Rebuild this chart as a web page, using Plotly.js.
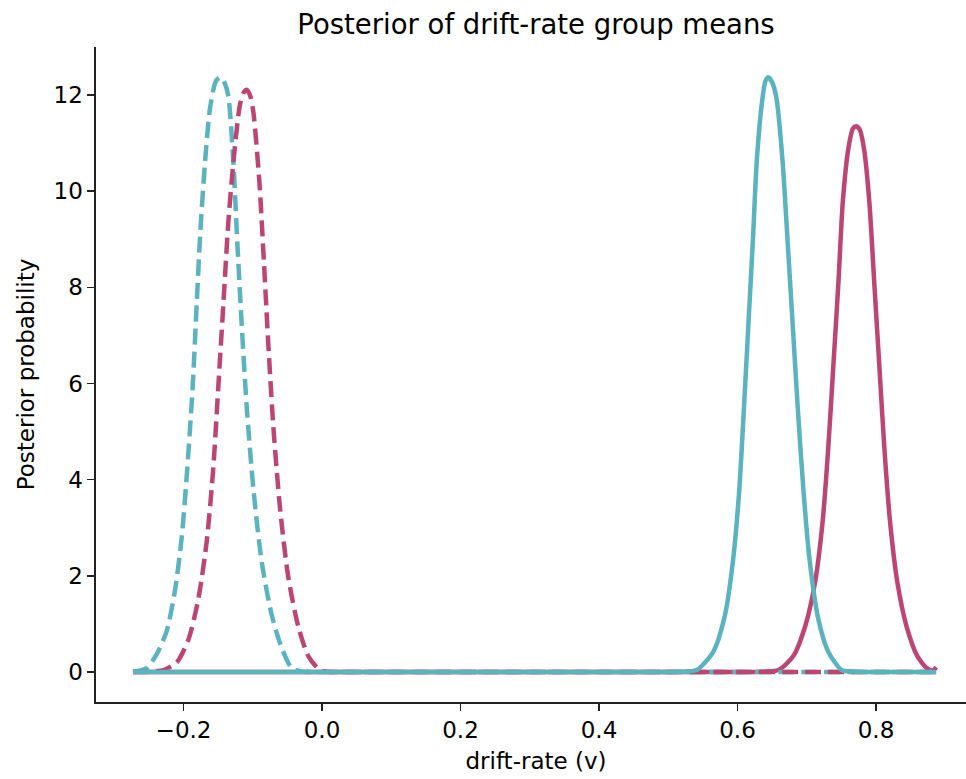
<!DOCTYPE html>
<html>
<head>
<meta charset="utf-8">
<script src="https://cdn.plot.ly/plotly-3.0.1.min.js"></script>
<style>
html, body { margin: 0; padding: 0; overflow: hidden; background: #fff; }
#chart { width: 976px; height: 779px; }
</style>
</head>
<body>
<div id="chart"></div>
<script>
// Dashed cyan
const dashedCyanX = [-0.273, -0.262, -0.253, -0.2387, -0.2243, -0.2123, -0.2026, -0.1945, -0.1867, -0.181, -0.176, -0.169, -0.1617, -0.153, -0.146, -0.1405, -0.1353, -0.128, -0.1223, -0.116, -0.1088, -0.0992, -0.0871, -0.0727, -0.0582, -0.0438, -0.03, -0.015, 0.0, 0.03, 0.07, 0.12, 0.2, 0.3, 0.4, 0.5, 0.6, 0.7, 0.8, 0.887];
const dashedCyanY = [0.0, 0.03, 0.08, 0.37, 0.85, 1.70, 2.80, 4.25, 5.95, 7.65, 9.09, 10.6, 11.73, 12.3, 12.37, 12.25, 11.98, 10.6, 8.92, 7.23, 5.52, 3.82, 2.29, 1.19, 0.5, 0.08, 0.01, 0.0, 0.0, 0.0, 0.0, 0.0, 0.0, 0.0, 0.0, 0.0, 0.0, 0.0, 0.0, 0.0];

// Dashed magenta
const dashedMagentaX = [-0.273, -0.26, -0.245, -0.229, -0.2098, -0.193, -0.1786, -0.1665, -0.157, -0.1497, -0.1425, -0.1353, -0.128, -0.1184, -0.1125, -0.109, -0.104, -0.0992, -0.0905, -0.0838, -0.0775, -0.0703, -0.0606, -0.0486, -0.0342, -0.0198, -0.003, 0.012, 0.025, 0.045, 0.08, 0.13, 0.2, 0.3, 0.4, 0.5, 0.6, 0.7, 0.8, 0.887];
const dashedMagentaY = [0.0, 0.0, 0.01, 0.04, 0.2, 0.67, 1.52, 2.72, 4.25, 5.95, 7.65, 9.35, 10.6, 11.81, 12.07, 12.11, 12.0, 11.65, 10.2, 8.5, 6.8, 5.1, 3.4, 1.96, 0.94, 0.33, 0.04, 0.0, 0.0, 0.0, 0.0, 0.0, 0.0, 0.0, 0.0, 0.0, 0.0, 0.0, 0.0, 0.0];

// Solid cyan
const solidCyanX = [-0.273, -0.2, -0.1, 0.0, 0.1, 0.2, 0.3, 0.4, 0.46, 0.5, 0.525, 0.541, 0.565, 0.582, 0.594, 0.6027, 0.6094, 0.6157, 0.622, 0.6277, 0.635, 0.6405, 0.6445, 0.6505, 0.6566, 0.6652, 0.6725, 0.6797, 0.6869, 0.695, 0.7037, 0.7167, 0.731, 0.7505, 0.768, 0.79, 0.82, 0.85, 0.887];
const solidCyanY = [0.0, 0.0, 0.0, 0.0, 0.0, 0.0, 0.0, 0.0, 0.0, 0.0, 0.01, 0.04, 0.42, 1.19, 2.38, 3.82, 5.52, 7.22, 8.92, 10.6, 11.81, 12.3, 12.37, 12.25, 11.9, 10.6, 8.92, 7.22, 5.52, 3.82, 2.38, 1.1, 0.42, 0.04, 0.01, 0.0, 0.0, 0.0, 0.0];

// Solid magenta
const solidMagentaX = [-0.273, -0.1, 0.0, 0.1, 0.2, 0.3, 0.4, 0.5, 0.56, 0.6, 0.625, 0.64, 0.659, 0.6806, 0.6975, 0.712, 0.723, 0.7311, 0.7384, 0.7456, 0.752, 0.76, 0.7665, 0.7711, 0.7765, 0.7827, 0.7904, 0.7976, 0.8048, 0.812, 0.8202, 0.8308, 0.8443, 0.8597, 0.8732, 0.882, 0.887];
const solidMagentaY = [0.0, 0.0, 0.0, 0.0, 0.0, 0.0, 0.0, 0.0, 0.0, 0.0, 0.0, 0.01, 0.04, 0.33, 0.94, 1.87, 3.14, 4.67, 6.37, 8.07, 9.77, 10.88, 11.3, 11.35, 11.28, 10.88, 9.77, 8.07, 6.37, 4.67, 3.14, 1.87, 0.94, 0.33, 0.08, 0.03, 0.1];

const xTickVals = [-0.2, 0.0, 0.2, 0.4, 0.6, 0.8];
const xTickText = ["\u22120.2", "0.0", "0.2", "0.4", "0.6", "0.8"];
const yTickVals = [0, 2, 4, 6, 8, 10, 12];
const yTickText = ["0", "2", "4", "6", "8", "10", "12"];

const cyan = "#5ab3bf";
const magenta = "#bc4673";
const lw = 4.5;

function trace(x, y, color, dash) {
  return {
    x: x, y: y, type: "scatter", mode: "lines",
    line: { color: color, width: lw, dash: dash, shape: "spline", smoothing: 0.7 },
    hoverinfo: "skip", showlegend: false
  };
}

const data = [
  trace(solidMagentaX, solidMagentaY, magenta, "solid"),
  trace(dashedCyanX, dashedCyanY, cyan, "16px,7px"),
  trace(dashedMagentaX, dashedMagentaY, magenta, "16px,7px"),
  trace(solidCyanX, solidCyanY, cyan, "solid")
];

const font = { family: "DejaVu Sans, sans-serif", size: 23, color: "#000" };

const layout = {
  width: 976, height: 779,
  margin: { l: 96, r: 0, t: 47, b: 77, pad: 0 },
  paper_bgcolor: "#fff", plot_bgcolor: "#fff",
  font: font,
  title: {
    text: "Posterior of drift-rate group means",
    font: { family: "DejaVu Sans, sans-serif", size: 27.5, color: "#000" },
    x: 0.5, xref: "paper", xanchor: "center",
    y: 1 - 24 / 779, yref: "container", yanchor: "middle"
  },
  xaxis: {
    range: [-0.3264, 0.9444],
    tickvals: xTickVals, ticktext: xTickText,
    showline: true, linecolor: "#222", linewidth: 1.6,
    ticks: "outside", ticklen: 7, tickwidth: 1.6, tickcolor: "#222",
    showgrid: false, zeroline: false, automargin: false,
    tickfont: font,
    title: { text: "drift-rate (v)", font: font, standoff: 10 }
  },
  yaxis: {
    range: [-0.625, 13.0],
    tickvals: yTickVals, ticktext: yTickText,
    showline: true, linecolor: "#222", linewidth: 1.6,
    ticks: "outside", ticklen: 7, tickwidth: 1.6, tickcolor: "#222",
    showgrid: false, zeroline: false, automargin: false,
    tickfont: font,
    title: { text: "Posterior probability", font: font, standoff: 12 }
  }
};

Plotly.newPlot("chart", data, layout, { staticPlot: true, displayModeBar: false });
</script>
</body>
</html>
